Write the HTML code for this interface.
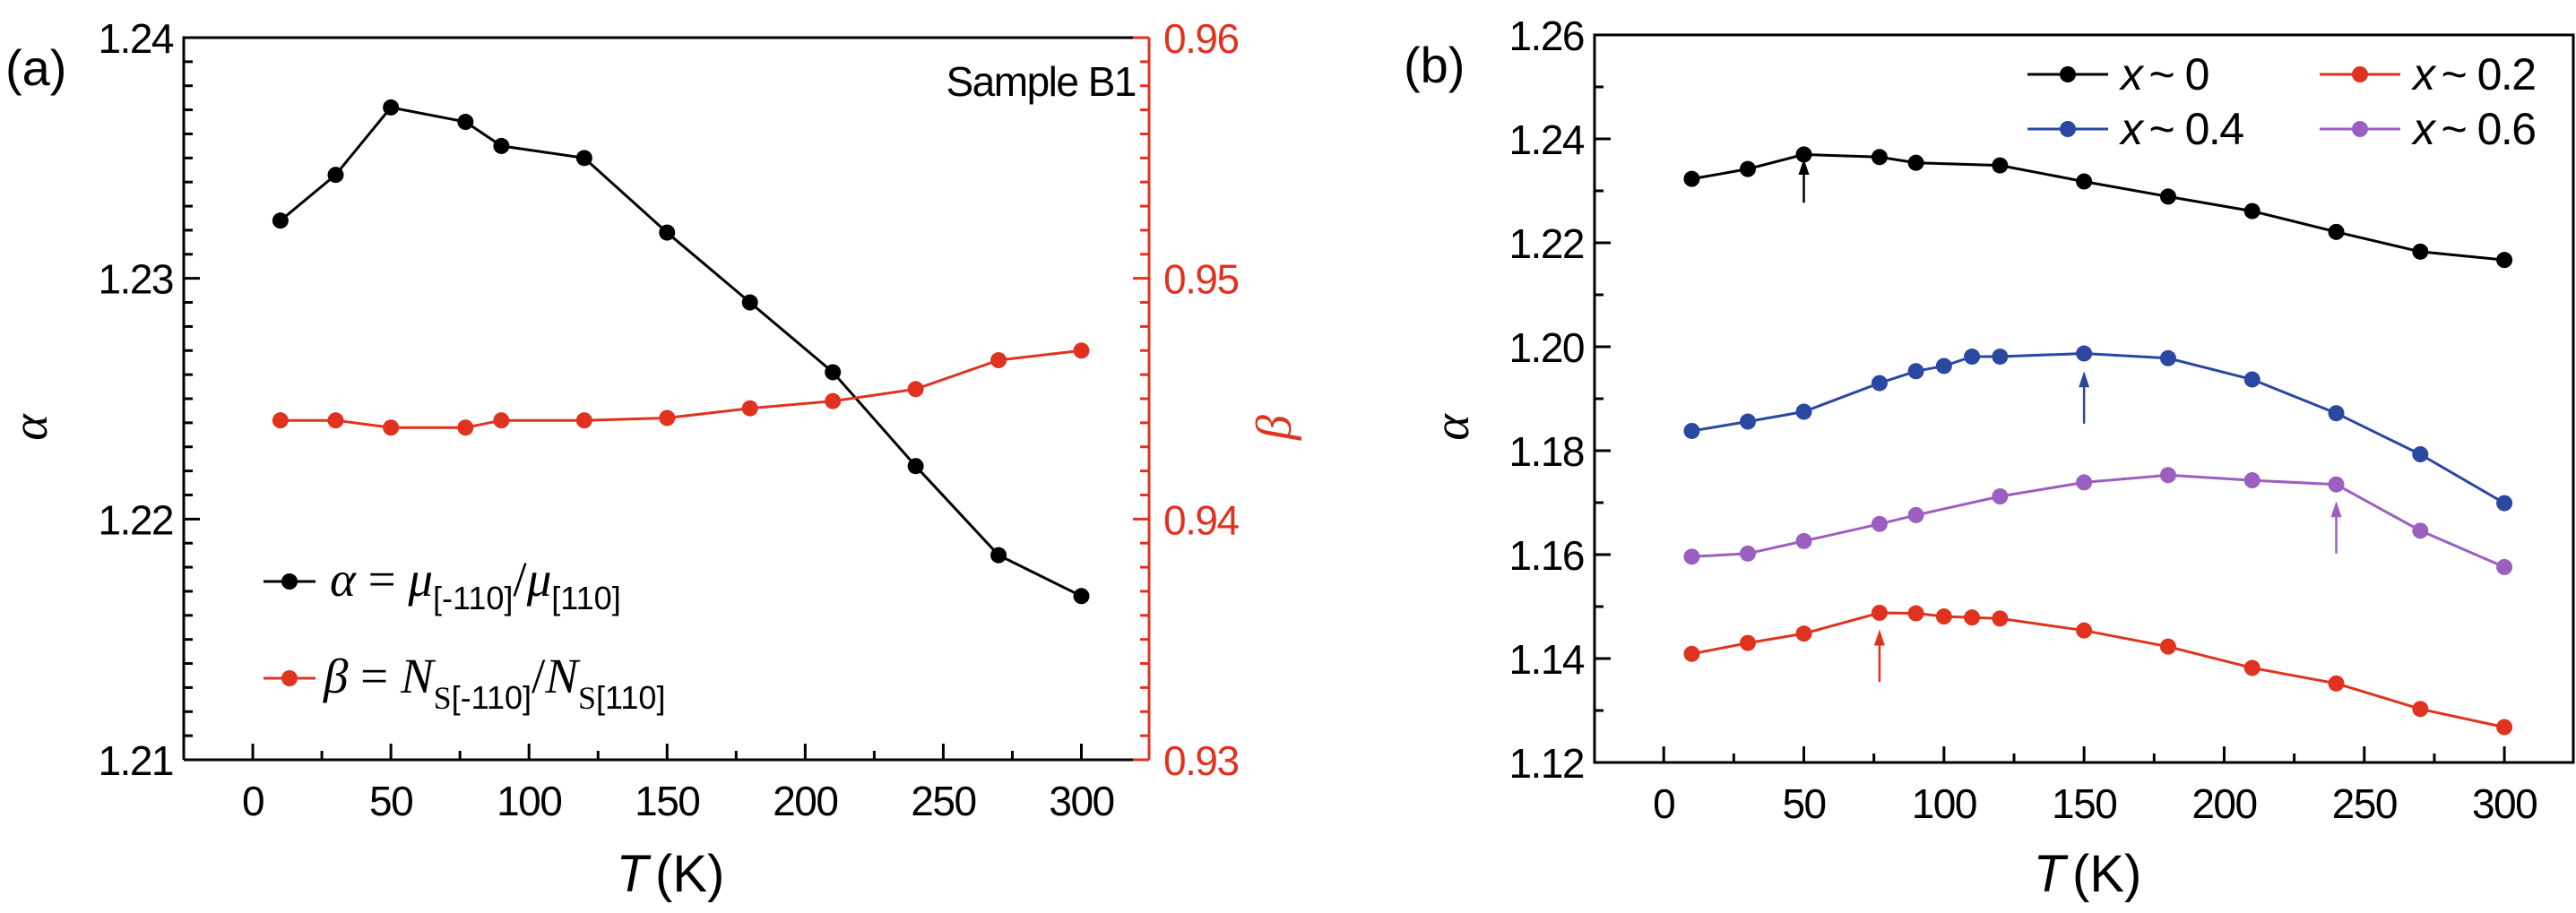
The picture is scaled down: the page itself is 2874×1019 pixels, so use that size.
<!DOCTYPE html>
<html><head><meta charset="utf-8"><style>
html,body{margin:0;padding:0;background:#fff;}
svg{display:block;font-family:"Liberation Sans",sans-serif;}
.tk{font-size:46px;letter-spacing:-1.5px;}
</style></head><body>
<svg id="fig" width="2874" height="1019" viewBox="0 0 2874 1019" xmlns="http://www.w3.org/2000/svg">
<g id="pa"></g>
<g id="pb"></g>
</svg>
<script>
const tempsA = [10,30,50,77,90,120,150,180,210,240,270,300];
const alphaA = [1.2324,1.2343,1.2371,1.2365,1.2355,1.2350,1.2319,1.2290,1.2261,1.2222,1.2185,1.2168];
const betaA  = [0.9441,0.9441,0.9438,0.9438,0.9441,0.9441,0.9442,0.9446,0.9449,0.9454,0.9466,0.9470];
const xTicks = [0,50,100,150,200,250,300];
const yTicksA = ["1.21","1.22","1.23","1.24"];
const yTicksA2 = ["0.93","0.94","0.95","0.96"];
const temps0 = [10,30,50,77,90,120,150,180,210,240,270,300];
const alpha0 = [1.2323,1.2342,1.2370,1.2365,1.2354,1.2349,1.2318,1.2289,1.2261,1.2221,1.2183,1.2167];
const temps04 = [10,30,50,77,90,100,110,120,150,180,210,240,270,300];
const alpha04 = [1.1838,1.1856,1.1875,1.1930,1.1953,1.1963,1.1981,1.1981,1.1987,1.1978,1.1937,1.1872,1.1793,1.1699];
const temps06 = [10,30,50,77,90,120,150,180,210,240,270,300];
const alpha06 = [1.1596,1.1602,1.1626,1.1659,1.1676,1.1712,1.1739,1.1753,1.1743,1.1735,1.1646,1.1576];
const temps02 = [10,30,50,77,90,100,110,120,150,180,210,240,270,300];
const alpha02 = [1.1409,1.1430,1.1448,1.1488,1.1487,1.1481,1.1479,1.1477,1.1454,1.1423,1.1382,1.1352,1.1303,1.1268];
const yTicksB = ["1.12","1.14","1.16","1.18","1.20","1.22","1.24","1.26"];
const arrowT = [50,150,240,77];
const arrowFrom = [1.2277,1.1852,1.1602,1.1355];
const arrowTo = [1.2362,1.1953,1.1703,1.1456];

const NS="http://www.w3.org/2000/svg";
function mk(parent,tag,attrs,text){const e=document.createElementNS(NS,tag);for(const k in attrs)e.setAttribute(k,attrs[k]);if(text!==undefined)e.textContent=text;parent.appendChild(e);return e;}
function lin(d0,d1,r0,r1){return v=>r0+(v-d0)/(d1-d0)*(r1-r0);}
const RED="#e0331f",BLUE="#2a48a0",PURP="#9b5fc0";

function series(g,xs,ys,X,Y,col,name){
  const pts=xs.map((t,i)=>X(t).toFixed(1)+","+Y(ys[i]).toFixed(1)).join(" ");
  const pl=mk(g,"polyline",{points:pts,fill:"none",stroke:col,"stroke-width":3});
  
  
  xs.forEach((t,i)=>{const c=mk(g,"circle",{cx:X(t),cy:Y(ys[i]),r:9,fill:col});
    
    });
}

// Panel A
(function(){
  const g=document.getElementById("pa");
  const L=205,R=1282,T=42,B=848;
  const X=lin(-25,324.5,L,R),Y=lin(1.21,1.24,B,T),Y2=lin(0.93,0.96,B,T);
  mk(g,"path",{d:`M${L},${B}V${T}H${R}`,fill:"none",stroke:"#000","stroke-width":3});
  const ra=mk(g,"line",{x1:R,y1:T,x2:R,y2:B,stroke:RED,"stroke-width":3});
  
  mk(g,"line",{x1:L,y1:B,x2:R,y2:B,stroke:"#000","stroke-width":3});
  for(let v=-25;v<=325;v+=25){const x=X(v);if(x<=L+2||x>=R-2)continue;const maj=(v%50===0);mk(g,"line",{x1:x,y1:B,x2:x,y2:B-(maj?18:10),stroke:"#000","stroke-width":3});}
  xTicks.forEach(v=>{const t=mk(g,"text",{x:X(v),y:B+62,"text-anchor":"middle",class:"tk"},String(v));
    });
  for(let i=0;i<=30;i++){const y=B-i*(B-T)/30;const maj=i%10===0;
    mk(g,"line",{x1:L,y1:y,x2:L+(maj?18:10),y2:y,stroke:"#000","stroke-width":3});
    mk(g,"line",{x1:R,y1:y,x2:R-(maj?18:10),y2:y,stroke:RED,"stroke-width":3});}
  yTicksA.forEach(s=>{const t=mk(g,"text",{x:L-12,y:Y(+s)+17,"text-anchor":"end",class:"tk"},s);
    });
  yTicksA2.forEach(s=>{const t=mk(g,"text",{x:R+16,y:Y2(+s)+17,"text-anchor":"start",class:"tk",fill:RED},s);
    });
  series(g,tempsA,alphaA,X,Y,"#000","alpha");
  series(g,tempsA,betaA,X,Y2,RED,"beta");
  const t1=mk(g,"text",{x:1267,y:107,"text-anchor":"end","font-size":46,"letter-spacing":-1.5},"Sample B1");
  
  const pa=mk(g,"text",{x:6,y:95,"font-size":56},"(a)");
  
  const xt=mk(g,"text",{x:748,y:995,"text-anchor":"middle","font-size":58});
  
  mk(xt,"tspan",{"font-style":"italic"},"T");mk(xt,"tspan",{dx:8},"(K)");
  const ya=mk(g,"text",{x:52,y:477,"text-anchor":"middle","font-size":56,"font-style":"italic","font-family":"Liberation Serif",transform:"rotate(-90 52 477)"},"α");
  
  const yb=mk(g,"text",{x:1440,y:477,"text-anchor":"middle","font-size":56,"font-style":"italic","font-family":"Liberation Serif",fill:RED,transform:"rotate(-90 1440 477)"},"β");
  
  // legend
  [[649,"#000"],[757,RED]].forEach(([y,c])=>{mk(g,"line",{x1:294,y1:y,x2:352,y2:y,stroke:c,"stroke-width":3});mk(g,"circle",{cx:323,cy:y,r:9,fill:c});});
  const l1=mk(g,"text",{x:368,y:665,"font-family":"Liberation Serif","font-size":55});
  
  l1.innerHTML='<tspan font-style="italic">α</tspan> = <tspan font-style="italic">μ</tspan><tspan font-family="Liberation Sans" font-size="36" dy="15">[-110]</tspan><tspan dy="-15">/</tspan><tspan font-style="italic">μ</tspan><tspan font-family="Liberation Sans" font-size="36" dy="15">[110]</tspan>';
  const l2=mk(g,"text",{x:361,y:773,"font-family":"Liberation Serif","font-size":55});
  
  l2.innerHTML='<tspan font-style="italic">β</tspan> = <tspan font-style="italic">N</tspan><tspan font-size="36" dy="18">S</tspan><tspan font-family="Liberation Sans" font-size="36">[-110]</tspan><tspan dy="-18">/</tspan><tspan font-style="italic">N</tspan><tspan font-size="36" dy="18">S</tspan><tspan font-family="Liberation Sans" font-size="36">[110]</tspan>';
})();

// Panel B
(function(){
  const g=document.getElementById("pb");
  const L=1779,R=2871,T=39,B=851;
  const X=lin(-24.7,324.6,L,R),Y=lin(1.12,1.26,B,T);
  mk(g,"rect",{x:L,y:T,width:R-L,height:B-T,fill:"none",stroke:"#000","stroke-width":3});
  for(let v=-25;v<=325;v+=25){const x=X(v);if(x<=L+2||x>=R-2)continue;const maj=(v%50===0);mk(g,"line",{x1:x,y1:B,x2:x,y2:B-(maj?18:10),stroke:"#000","stroke-width":3});}
  xTicks.forEach(v=>{const t=mk(g,"text",{x:X(v),y:B+62,"text-anchor":"middle",class:"tk"},String(v));
    });
  for(let i=0;i<=14;i++){const y=B-i*(B-T)/14;const maj=i%2===0;
    mk(g,"line",{x1:L,y1:y,x2:L+(maj?18:10),y2:y,stroke:"#000","stroke-width":3});}
  yTicksB.forEach(s=>{const t=mk(g,"text",{x:L-12,y:Y(+s)+17,"text-anchor":"end",class:"tk"},s);
    });
  series(g,temps0,alpha0,X,Y,"#000","x0");
  series(g,temps04,alpha04,X,Y,BLUE,"x04");
  series(g,temps06,alpha06,X,Y,PURP,"x06");
  series(g,temps02,alpha02,X,Y,RED,"x02");
  const cols=["#000",BLUE,PURP,RED];
  arrowT.forEach((t,i)=>{const x=X(t),y1=Y(arrowFrom[i]),y2=Y(arrowTo[i]);
    const a=mk(g,"line",{x1:x,y1:y1,x2:x,y2:y2+12,stroke:cols[i],"stroke-width":2.5});
    
    mk(g,"path",{d:`M${x},${y2}l-6,18h12z`,fill:cols[i]});});
  const pb=mk(g,"text",{x:1566,y:92,"font-size":56},"(b)");
  
  const xt=mk(g,"text",{x:2329,y:995,"text-anchor":"middle","font-size":58});
  
  mk(xt,"tspan",{"font-style":"italic"},"T");mk(xt,"tspan",{dx:8},"(K)");
  const ya=mk(g,"text",{x:1638,y:477,"text-anchor":"middle","font-size":56,"font-style":"italic","font-family":"Liberation Serif",transform:"rotate(-90 1638 477)"},"α");
  
  const leg=[[2262,83,"#000","0"],[2588,83,RED,"0.2"],[2262,144,BLUE,"0.4"],[2588,144,PURP,"0.6"]];
  leg.forEach(([x,y,c,lab])=>{
    const e=mk(g,"g",{});
    
    mk(e,"line",{x1:x,y1:y,x2:x+90,y2:y,stroke:c,"stroke-width":3});
    mk(e,"circle",{cx:x+45,cy:y,r:9,fill:c});
    const t=mk(e,"text",{x:x+104,y:y+17,"font-size":50,"letter-spacing":-1.5});
    mk(t,"tspan",{"font-style":"italic"},"x");mk(t,"tspan",{dx:8},"~ "+lab);
  });
})();
</script>
</body></html>
